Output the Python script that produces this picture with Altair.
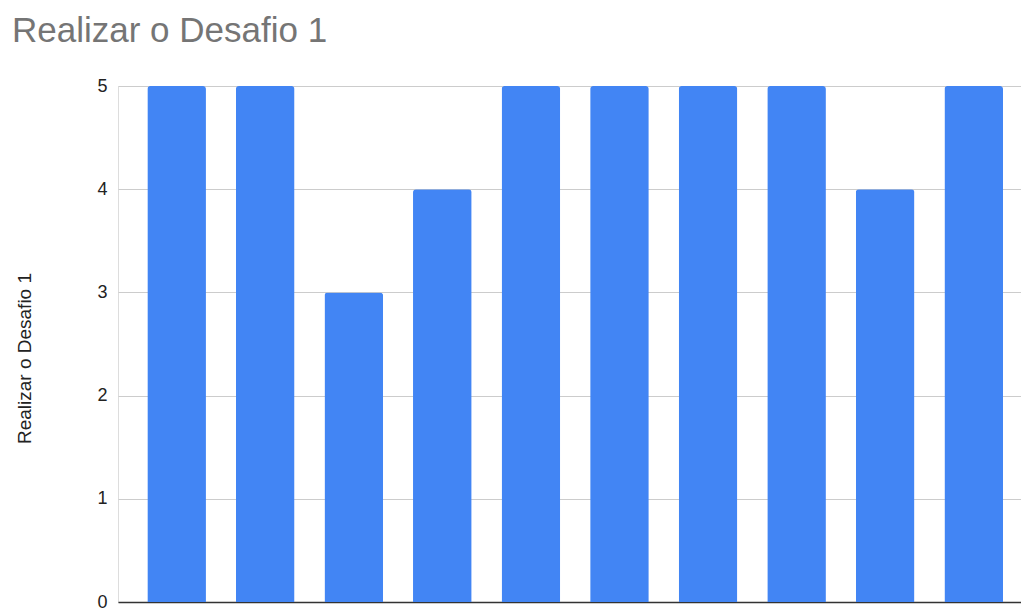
import altair as alt
import pandas as pd

# Ten responses for "Realizar o Desafio 1"
respondents = [f"R{i}" for i in range(1, 11)]
scores = [5, 5, 3, 4, 5, 5, 5, 5, 4, 5]
y_ticks = [0, 1, 2, 3, 4, 5]

df = pd.DataFrame({"respondente": respondents, "nota": scores})

FONT = "Liberation Sans"

bars = alt.Chart(df).mark_bar(
    color="#4285F4",
    cornerRadiusTopLeft=3,
    cornerRadiusTopRight=3,
).encode(
    x=alt.X(
        "respondente:N",
        sort=respondents,
        scale=alt.Scale(paddingInner=0.338, paddingOuter=0.267, align=0.62),
        axis=alt.Axis(
            title=None, labels=False, ticks=False,
            domainColor="#333333", domainWidth=1.5,
        ),
    ),
    y=alt.Y(
        "nota:Q",
        scale=alt.Scale(domain=[0, 5], nice=False),
        axis=alt.Axis(
            title="Realizar o Desafio 1",
            values=y_ticks,
            format="d",
            domain=False,
            ticks=False,
            labelPadding=11,
            labelFontSize=18,
            labelColor="#222222",
            labelFont=FONT,
            gridColor="#cccccc",
            gridWidth=1,
            titleFont=FONT,
            titleFontSize=19,
            titleFontWeight="normal",
            titleColor="#222222",
            titlePadding=62,
            titleY=272,
        ),
    ),
)

chart = bars.properties(
    width=903,
    height=516,
    autosize=alt.AutoSizeParams(type="none"),
    padding={"left": 118, "top": 86, "right": 0, "bottom": 6},
    title=alt.TitleParams(
        "Realizar o Desafio 1",
        anchor="start",
        frame="group",
        font=FONT,
        fontSize=35,
        fontWeight="normal",
        color="#757575",
        offset=28,
        dx=-106,
    ),
).configure_view(stroke=None).configure(background="white")

chart.save("out.html", embed_options={"renderer": "svg", "actions": False})
